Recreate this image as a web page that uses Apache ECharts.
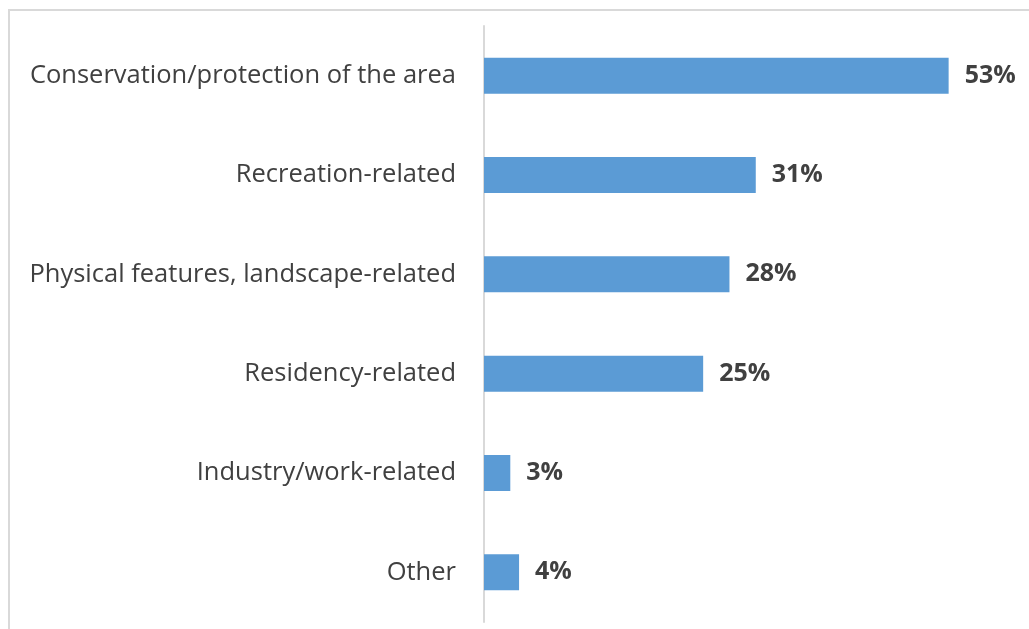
<!DOCTYPE html>
<html>
<head>
<meta charset="utf-8">
<script src="https://cdn.jsdelivr.net/npm/echarts@6/dist/echarts.min.js"></script>
<style>
  html, body { margin: 0; padding: 0; background: #fff; }
  #frame { position: absolute; left: 8px; top: 9px; width: 1021px; height: 620px;
           border-top: 2px solid #d9d9d9; border-left: 2px solid #d9d9d9; box-sizing: border-box; }
  #chart { position: absolute; left: 0; top: 0; width: 1029px; height: 629px; }
</style>
</head>
<body>
<div id="frame"></div>
<div id="chart"></div>
<script>
// categories top to bottom
const categories = [
  'Conservation/protection of the area',
  'Recreation-related',
  'Physical features, landscape-related',
  'Residency-related',
  'Industry/work-related',
  'Other'
]
const values = [53, 31, 28, 25, 3, 4]

const chart = echarts.init(document.getElementById('chart'))

const option = {
  animation: false,
  grid: {
    left: 484,
    right: 19,
    top: 26,
    bottom: 7
  },
  xAxis: {
    type: 'value',
    min: 0,
    max: 60,
    show: false
  },
  yAxis: {
    type: 'category',
    inverse: true,
    data: categories,
    axisLine: { show: true, lineStyle: { color: '#d9d9d9', width: 2 } },
    axisTick: { show: false },
    axisLabel: {
      margin: 28,
      color: '#404040',
      fontFamily: 'Open Sans',
      fontSize: 25.5
    }
  },
  series: [
    {
      type: 'bar',
      data: values,
      barWidth: 36,
      itemStyle: { color: '#5b9bd5' },
      label: {
        show: true,
        position: 'right',
        distance: 16,
        formatter: '{c}%',
        color: '#404040',
        fontFamily: 'Open Sans',
        fontWeight: 'bold',
        fontSize: 25
      }
    }
  ]
}

chart.setOption(option)
</script>
</body>
</html>
